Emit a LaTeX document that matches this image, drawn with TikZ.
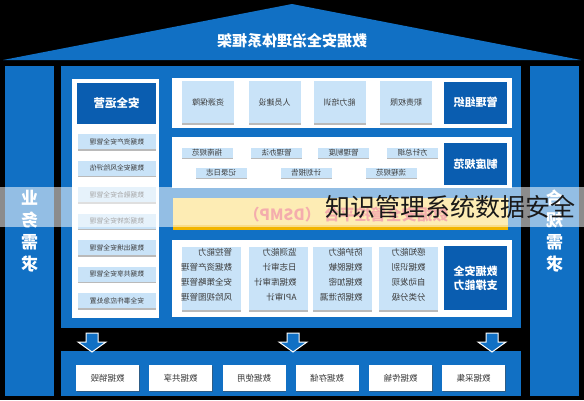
\documentclass[tikz,border=0pt]{standalone}
\usepackage{fontspec}
\newfontfamily\cjk{Noto Sans CJK SC}
\usetikzlibrary{shadows}
\definecolor{frameblue}{HTML}{1170C4}
\definecolor{hdrblue}{HTML}{0A5DB0}
\definecolor{lightblue}{HTML}{C9E3F8}
\definecolor{txt}{HTML}{3A3A3A}
\definecolor{bandyellow}{HTML}{FBD65A}
\definecolor{bandstripe}{HTML}{F2B500}
\definecolor{dsmpred}{HTML}{E84B4B}
\newcommand\mr[1]{\reflectbox{#1}}
\newcommand\fsz[2]{\fontsize{#1}{#2}\selectfont}
\tikzset{
  hdrbox/.style={fill=hdrblue, text=white, inner sep=0pt, outer sep=0pt, minimum width=63pt, minimum height=42pt, align=center, font=\cjk\bfseries\fsz{11}{14}},
  panel/.style={fill=white, draw=none},
  opbox/.style={fill=lightblue, text=txt, inner sep=0pt, minimum width=78pt, minimum height=15pt, font=\cjk\fsz{6.8}{8}, drop shadow={shadow xshift=0pt, shadow yshift=-1.6pt, opacity=0.45, fill=black!60}},
  orgbox/.style={fill=lightblue, text=txt, inner sep=0pt, minimum width=52pt, minimum height=42pt, font=\cjk\fsz{8}{9}, drop shadow={shadow xshift=0pt, shadow yshift=-1.6pt, opacity=0.45, fill=black!60}},
  pill/.style={fill=lightblue, text=txt, inner sep=0pt, minimum width=51pt, minimum height=10pt, font=\cjk\fsz{7.5}{8}, drop shadow={shadow xshift=0pt, shadow yshift=-1.4pt, opacity=0.45, fill=black!60}},
  capcol/.style={fill=lightblue, inner sep=0pt, minimum width=59pt, minimum height=63pt, drop shadow={shadow xshift=0pt, shadow yshift=-1.6pt, opacity=0.45, fill=black!60}},
  captext/.style={text=txt, inner sep=0pt, align=right, font=\cjk\fsz{8.5}{15}, anchor=north east},
  lifebox/.style={fill=white, text=txt, inner sep=0pt, minimum width=63pt, minimum height=26pt, font=\cjk\fsz{8.5}{10}, drop shadow={shadow xshift=0.5pt, shadow yshift=-1.2pt, opacity=0.5, fill=black!70}},
  pillartext/.style={text=white, align=center, inner sep=0pt, font=\cjk\bfseries\fsz{17}{22}},
  downarrow/.style={fill=frameblue, draw=white, line width=1pt, line join=miter}
}
\begin{document}
\begin{tikzpicture}[x=1pt,y=-1pt]
\useasboundingbox (0,0) rectangle (584,400);
\fill[black] (0,0) rectangle (584,400);

% roof
\fill[frameblue] (292,4) -- (581,60) -- (3,60) -- cycle;
\node[text=white, inner sep=0pt, font=\cjk\bfseries\fsz{15}{16}] (title) at (292,41) {\mr{数据安全治理体系框架}};

% pillars
\fill[frameblue] (5,66) rectangle (54,396);
\fill[frameblue] (530,66) rectangle (579,396);
\node[pillartext] (lpt) at (29.5,231) {\mr{业}\\\mr{务}\\\mr{需}\\\mr{求}};
\node[pillartext] (rpt) at (554.5,231) {\mr{合}\\\mr{规}\\\mr{需}\\\mr{求}};

% main frame
\fill[frameblue] (61,66) rectangle (521,328);
\fill[frameblue] (61,351) rectangle (521,396);

% left panel: security operations
\fill[white] (72,79) rectangle (159,318);
\node[hdrbox, minimum width=79pt, minimum height=41pt, font=\cjk\bfseries\fsz{11.5}{14}] (ops) at (116.5,103.5) {\mr{安全运营}};
\node[opbox] (op1) at (117,141.5) {\mr{数据资产安全管理}};
\node[opbox] (op2) at (117,168) {\mr{数据安全风险评估}};
\node[opbox] (op3) at (117,194.5) {\mr{数据融合安全管理}};
\node[opbox] (op4) at (117,221) {\mr{数据流转安全管理}};
\node[opbox] (op5) at (117,247.5) {\mr{数据出境安全管理}};
\node[opbox] (op6) at (117,274) {\mr{数据共享安全管理}};
\node[opbox] (op7) at (117,300.5) {\mr{安全事件应急处置}};

% top panel: organisation
\fill[white] (172,78) rectangle (512,128);
\node[orgbox] (org1) at (208,102) {\mr{资源保障}};
\node[orgbox] (org2) at (274.5,102) {\mr{人员建设}};
\node[orgbox] (org3) at (339.5,102) {\mr{能力培训}};
\node[orgbox] (org4) at (406,102) {\mr{职责权限}};
\node[hdrbox] (orgh) at (475.5,102.5) {\mr{管理组织}};

% second panel: rules
\fill[white] (172,137) rectangle (512,188);
\node[pill] (r1) at (207,152.5) {\mr{指南规范}};
\node[pill] (r2) at (276.5,152.5) {\mr{管理办法}};
\node[pill] (r3) at (343.5,152.5) {\mr{管理制度}};
\node[pill] (r4) at (412.5,152.5) {\mr{方针总纲}};
\node[pill] (r5) at (221,173) {\mr{记录日志}};
\node[pill] (r6) at (306,173) {\mr{计划报告}};
\node[pill] (r7) at (391,173) {\mr{流程规范}};
\node[hdrbox] (ruleh) at (475.5,164) {\mr{制度规范}};

% platform band
\fill[bandyellow] (173,198) rectangle (508,226);
\fill[bandstripe] (173,225) rectangle (508,230);
\node[text=dsmpred, inner sep=0pt, font=\cjk\bfseries\fsz{15.5}{16}] (dsmp) at (346,214) {\mr{数据安全管控平台 （DSMP）}};

% capability panel
\fill[white] (172,240) rectangle (512,317);
\node[capcol] (c1) at (211.5,278.5) {};
\node[capcol] (c2) at (278,278.5) {};
\node[capcol] (c3) at (342,278.5) {};
\node[capcol] (c4) at (408,278.5) {};
\node[captext] (t1) at ([xshift=-9pt,yshift=-1.5pt]c1.north east) {\mr{管控能力}\\\mr{数据资产管理}\\\mr{安全策略管理}\\\mr{风险视图管理}};
\node[captext] (t2) at ([xshift=-11pt,yshift=-1.5pt]c2.north east) {\mr{监测能力}\\\mr{日志审计}\\\mr{数据库审计}\\\mr{API审计}};
\node[captext] (t3) at ([xshift=-9pt,yshift=-1.5pt]c3.north east) {\mr{防护能力}\\\mr{数据脱敏}\\\mr{数据加密}\\\mr{数据防泄漏}};
\node[captext] (t4) at ([xshift=-12pt,yshift=-1.5pt]c4.north east) {\mr{感知能力}\\\mr{数据识别}\\\mr{自动发现}\\\mr{分类分级}};
\node[hdrbox, minimum height=64pt] (caph) at (475.5,278) {\mr{数据安全}\\\mr{支撑能力}};

% arrows
\foreach \cx/\nm in {92/a1,293/a2,492/a3}{
  \draw[downarrow] (\cx-6,333) -- (\cx+6,333) -- (\cx+6,342) -- (\cx+14,342) -- (\cx,352) -- (\cx-14,342) -- (\cx-6,342) -- cycle;
}

% lifecycle row
\node[lifebox] (l1) at (107.5,378) {\mr{数据销毁}};
\node[lifebox] (l2) at (180.5,378) {\mr{数据共享}};
\node[lifebox] (l3) at (254,378) {\mr{数据使用}};
\node[lifebox] (l4) at (327,378) {\mr{数据存储}};
\node[lifebox] (l5) at (400.5,378) {\mr{数据传输}};
\node[lifebox] (l6) at (473.5,378) {\mr{数据采集}};

% watermark overlay
\fill[white, opacity=0.55] (0,187) rectangle (584,227);
\node[anchor=west, inner sep=0pt, text=black!90, font=\cjk\fsz{25}{26}] (wm) at (325,207) {知识管理系统数据安全};
\end{tikzpicture}
\end{document}
